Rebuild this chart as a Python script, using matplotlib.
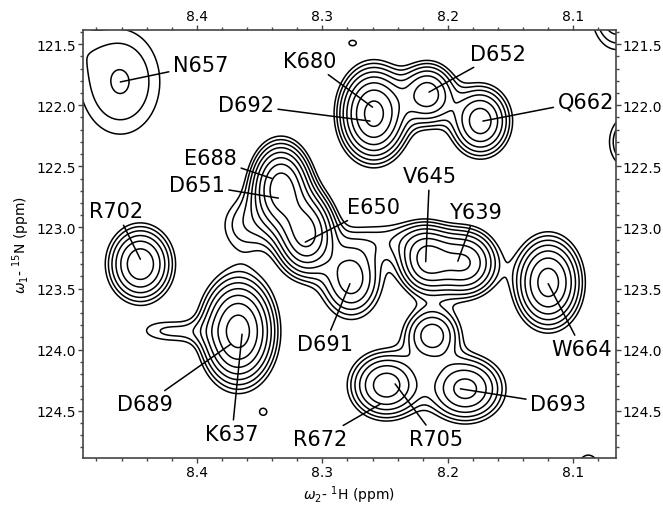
import numpy as np
import matplotlib
matplotlib.use("Agg")
import matplotlib.pyplot as plt
from matplotlib.ticker import MultipleLocator, FormatStrFormatter

# Peak table: 1H shift, 15N shift, number of contour levels reached, widths (ppm)
peak_h  = [8.461, 8.259, 8.216, 8.174, 8.333, 8.313, 8.362, 8.445, 8.277, 8.217, 8.186,
           8.120, 8.367, 8.420, 8.2125, 8.249, 8.186, 8.347, 8.276, 8.520, 8.065, 8.055, 8.088,
           8.245]
peak_n  = [121.81, 122.07, 121.91, 122.13, 122.68, 123.05, 122.98, 123.30, 123.42, 123.27, 123.29,
           123.45, 123.85, 123.85, 123.88, 124.29, 124.32, 124.51, 121.49, 121.45, 121.25, 122.30, 125.00,
           123.10]
peak_lv = [2.1, 7.4, 5.6, 5.6, 7.6, 7.4, 1.5, 5.8, 4.6, 6.2, 6.0,
           6.5, 7.5, 1.2, 4.6, 5.6, 5.4, 0.5, 0.5, 1.5, 3.0, 3.0, 1.4,
           1.0]
peak_sx = [0.028, 0.015, 0.013, 0.014, 0.013, 0.013, 0.016, 0.015, 0.015, 0.013, 0.015,
           0.015, 0.016, 0.022, 0.014, 0.017, 0.018, 0.004, 0.004, 0.020, 0.015, 0.012, 0.010,
           0.025]
peak_sy = [0.38, 0.21, 0.15, 0.17, 0.20, 0.19, 0.18, 0.18, 0.20, 0.16, 0.16,
           0.21, 0.24, 0.08, 0.14, 0.16, 0.16, 0.04, 0.03, 0.20, 0.22, 0.16, 0.15,
           0.12]

# Assignment labels: text position and the peak each one points to
labels   = ["N657", "K680", "D652", "D692", "Q662", "E688", "D651", "E650", "V645", "Y639",
            "R702", "D691", "W664", "D689", "K637", "R672", "R705", "D693"]
label_h  = [8.397, 8.310, 8.160, 8.361, 8.090, 8.389, 8.400, 8.259, 8.2146, 8.178,
            8.464, 8.298, 8.093, 8.441, 8.372, 8.302, 8.209, 8.112]
label_n  = [121.672, 121.639, 121.580, 121.999, 121.966, 122.430, 122.650, 122.834, 122.580, 122.875,
            122.867, 123.955, 123.996, 124.446, 124.690, 124.730, 124.730, 124.446]
target_h = [8.461, 8.260, 8.215, 8.262, 8.172, 8.340, 8.335, 8.3136, 8.2176, 8.192,
            8.445, 8.278, 8.120, 8.373, 8.364, 8.254, 8.242, 8.190]
target_n = [121.81, 122.016, 121.893, 122.13, 122.13, 122.60, 122.76, 123.12, 123.28, 123.276,
            123.26, 123.46, 123.46, 123.955, 123.873, 124.446, 124.28, 124.32]

x_min, x_max = 8.491, 8.066
y_min, y_max = 121.385, 124.89

base, factor, n_levels = 1.0, 1.35, 10

fig = plt.figure(figsize=(6.63, 5.06), dpi=100)
ax = fig.add_axes([0.1247, 0.0919, 0.929 - 0.1247, 0.9387 - 0.0919])

xs = np.linspace(7.95, 8.60, 700)
ys = np.linspace(120.8, 125.5, 700)
X, Y = np.meshgrid(xs, ys)
Z = np.zeros_like(X)
for h, n, lv, sx, sy in zip(peak_h, peak_n, peak_lv, peak_sx, peak_sy):
    amp = base * factor ** lv
    Z += amp * np.exp(-0.5 * (((X - h) / sx) ** 2 + ((Y - n) / sy) ** 2))

levels = base * factor ** np.arange(n_levels)
ax.contour(X, Y, Z, levels=levels, colors="black", linewidths=1.1)

for t, lh, ln, th, tn in zip(labels, label_h, label_n, target_h, target_n):
    ax.annotate(t, xy=(th, tn), xytext=(lh, ln), ha="center", va="center",
                fontsize=15, color="black",
                arrowprops=dict(arrowstyle="-", color="black", lw=1.1,
                                shrinkA=1, shrinkB=0))

ax.set_xlim(x_min, x_max)
ax.set_ylim(y_max, y_min)

ax.xaxis.set_major_locator(MultipleLocator(0.1))
ax.xaxis.set_minor_locator(MultipleLocator(0.02))
ax.yaxis.set_major_locator(MultipleLocator(0.5))
ax.yaxis.set_minor_locator(MultipleLocator(0.1))
ax.xaxis.set_major_formatter(FormatStrFormatter("%.1f"))
ax.yaxis.set_major_formatter(FormatStrFormatter("%.1f"))
ax.tick_params(which="both", direction="out", top=True, right=True,
               labeltop=True, labelright=True, labelsize=10, pad=1.2,
               color="#444444")
ax.tick_params(which="major", length=3.8, width=1)
ax.tick_params(which="minor", length=2.4, width=1)
for sp in ax.spines.values():
    sp.set_color("#444444")
    sp.set_linewidth(1.2)

ax.set_xlabel(r"$\omega_2$- $^{1}$H (ppm)", fontsize=10, labelpad=3)
ax.set_ylabel(r"$\omega_1$- $^{15}$N (ppm)", fontsize=10, labelpad=3)

fig.savefig("out.png", dpi=100)
